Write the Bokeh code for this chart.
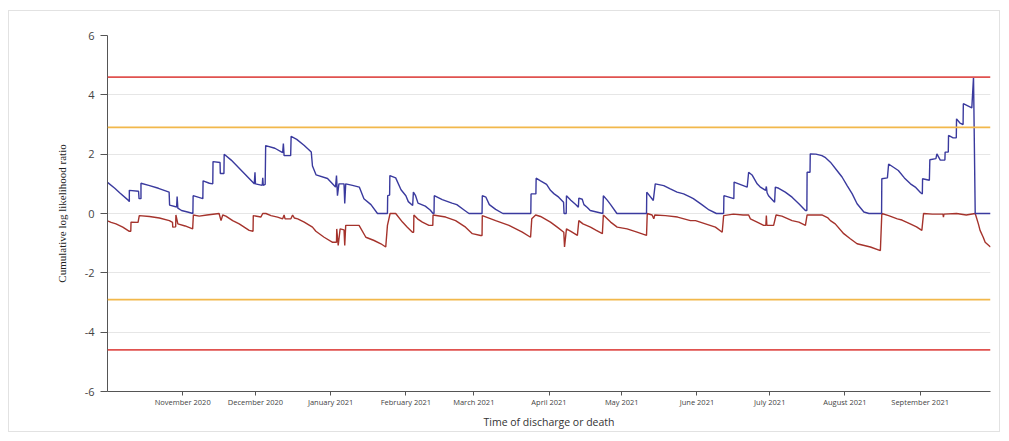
import numpy as np
from bokeh.plotting import figure
from bokeh.models import Range1d, FixedTicker, Span
from bokeh.embed import file_html
from bokeh.resources import INLINE

# ---------------- data ----------------
start_date = "2020-10-01"
end_date = "2021-09-30"

# upper CUSUM (days since start_date, value)
blue_day = [0, 3, 5, 8.5, 9, 9, 12.8, 13, 13.8, 13.8, 17, 21, 25.4, 25.6, 28.5, 28.7, 29.0, 30.5, 33,
            35.2, 35.3, 39.3, 39.4, 42, 43.4, 43.5, 46.4, 46.5, 48.0, 48.1, 51, 54, 57, 60.5, 60.8, 61.0,
            63.8, 64.0, 64.2, 65.0, 65.2, 69, 72.2, 72.5, 72.8, 75.5, 75.7, 78, 81, 84, 84.5, 86, 90.7, 94,
            94.4, 94.8, 95.4, 97.5, 97.8, 98.2, 101, 103.8, 105.7, 108.6, 111.3, 115.4, 115.5, 116.3, 116.4,
            118.8, 121, 123, 124, 125.8, 126.1, 127, 128, 131, 133, 134.2, 134.6, 134.7, 138, 142, 144, 147,
            149, 154.4, 154.5, 156, 157.4, 160, 163, 174.5, 174.6, 176.6, 176.7, 178.5, 181, 182.6, 184, 186,
            188, 188.2, 189.1, 189.2, 191, 193, 194.1, 194.3, 195.7, 196.4, 197.8, 199, 204.2, 204.4, 206,
            207.4, 210, 222.2, 222.3, 225, 225.8, 229.3, 232, 234.8, 237.5, 240.3, 241.5, 245, 248, 251, 254,
            254.1, 258.2, 258.3, 263.7, 264.3, 265.7, 267.8, 269, 271.3, 271.6, 271.9, 272.5, 275, 275.3,
            276.7, 279.4, 282.2, 285, 287.7, 288.3, 288.4, 289.6, 289.7, 292, 294.5, 296, 298, 300.7, 302.8,
            304.9, 307, 309, 311.8, 313.9, 319.1, 319.2, 321.5, 322, 326, 328.5, 331, 333, 335.2, 335.9, 336.0,
            338.8, 339.0, 341.5, 341.9, 343.3, 345.2, 345.3, 346.6, 346.7, 348.6, 349.9, 350.0, 351.4, 352.7,
            352.8, 356.3, 357.0, 357.7, 364]
blue_val = [1.05, 0.85, 0.7, 0.45, 0.40, 0.78, 0.75, 0.5, 0.5, 1.02, 0.95, 0.85, 0.72, 0.28, 0.22, 0.57,
            0.18, 0.1, 0.05, 0.0, 0.6, 0.5, 1.1, 1.02, 1.0, 1.75, 1.72, 1.35, 1.35, 2.0, 1.8, 1.55, 1.3, 1.0,
            1.39, 1.0, 0.95, 1.2, 0.95, 0.98, 2.29, 2.2, 2.05, 2.36, 1.95, 1.95, 2.6, 2.5, 2.3, 2.07, 1.6,
            1.3, 1.18, 0.89, 1.28, 0.6, 1.0, 1.0, 0.34, 1.0, 0.95, 0.89, 0.5, 0.3, 0.0, 0.0, 0.6, 0.62, 1.28,
            1.2, 0.8, 0.6, 0.4, 0.27, 0.72, 0.6, 0.35, 0.25, 0.12, 0.0, 0.0, 0.6, 0.47, 0.35, 0.3, 0.12, 0.0,
            0.0, 0.6, 0.55, 0.3, 0.14, 0.0, 0.0, 0.66, 0.66, 1.19, 1.1, 0.98, 0.78, 0.67, 0.55, 0.38, 0.0,
            0.0, 0.6, 0.45, 0.3, 0.21, 0.52, 0.48, 0.3, 0.2, 0.1, 0.0, 0.6, 0.45, 0.3, 0.0, 0.0, 0.72, 0.44,
            1.0, 0.94, 0.83, 0.72, 0.66, 0.55, 0.5, 0.3, 0.12, 0.0, 0.0, 0.6, 0.5, 1.06, 0.89, 1.39, 1.3, 1.0,
            0.9, 0.78, 0.91, 0.7, 0.6, 0.38, 0.89, 0.85, 0.72, 0.55, 0.33, 0.1, 0.1, 1.39, 1.39, 2.01, 2.0,
            1.95, 1.88, 1.73, 1.45, 1.23, 0.94, 0.66, 0.33, 0.05, 0.0, 0.0, 1.17, 1.2, 1.67, 1.45, 1.2, 1.0,
            0.89, 0.7, 0.66, 1.17, 1.12, 1.81, 1.85, 2.01, 1.8, 1.8, 2.07, 2.07, 2.63, 2.55, 2.55, 3.19, 3.05,
            3.0, 3.7, 3.56, 4.6, 0.0, 0.0]

# lower CUSUM (days since start_date, value)
red_day = [0, 1.5, 3.5, 6.3, 9.0, 9.6, 9.7, 12.6, 13.1, 17.3, 21.4, 25.5, 26.8, 26.9, 28.1, 28.2, 29, 32,
           35.1, 35.4, 37.8, 41, 46, 46.8, 47.5, 48.8, 51.6, 54.3, 58.4, 60, 60.1, 63.2, 64, 65.3, 67.4,
           70.1, 72.2, 72.8, 73.2, 75.6, 76.3, 77, 78.4, 81.1, 84.5, 85.9, 89.3, 92.8, 94.4, 94.5, 95.1, 95.9,
           97.5, 97.8, 98.2, 103.7, 106.5, 109.9, 112.7, 114.7, 115.4, 116.5, 118.8, 121.6, 123.6, 125.7,
           126.2, 126.3, 127.8, 129.8, 132.5, 134.1, 134.2, 139.4, 143.5, 147.6, 150.4, 153.8, 154.4, 154.5,
           160, 165.5, 171, 174.4, 174.9, 176.5, 178.5, 182.6, 185.4, 188.1, 188.4, 189.2, 191, 193.7, 194.3,
           196, 199.1, 201.5, 204, 204.4, 207.4, 210.1, 214.2, 218.3, 222.2, 222.5, 224.5, 225.2, 225.6, 230,
           235, 240.3, 242.4, 246.5, 250.6, 253.4, 254, 258, 262, 264.3, 265, 267.8, 270.5, 271.4, 271.6,
           271.8, 274.6, 275.6, 278, 282.2, 285, 287.7, 288.4, 294.5, 297, 298, 300, 303.5, 306.2, 309, 314.5,
           318.6, 319.2, 322, 325.6, 327.5, 330.9, 333.5, 335.7, 336.4, 340, 344.4, 344.6, 344.8, 350, 354,
           357.7, 359, 359.7, 361, 361.8, 364]
red_val = [-0.25, -0.3, -0.35, -0.46, -0.6, -0.6, -0.29, -0.3, -0.07, -0.1, -0.15, -0.24, -0.3, -0.46, -0.45,
           -0.05, -0.35, -0.42, -0.52, -0.05, -0.09, -0.05, 0.0, -0.24, -0.05, -0.09, -0.24, -0.35, -0.57,
           -0.6, -0.07, -0.12, 0.0, 0.0, -0.07, -0.12, -0.18, -0.05, -0.18, -0.18, -0.05, -0.15, -0.18, -0.29,
           -0.46, -0.6, -0.8, -0.97, -0.97, -0.52, -1.08, -0.52, -0.55, -1.08, -0.4, -0.4, -0.8, -0.91, -1.02,
           -1.13, -0.4, 0.0, 0.0, -0.29, -0.46, -0.63, -0.63, -0.05, -0.18, -0.29, -0.4, -0.4, -0.05, -0.12,
           -0.24, -0.46, -0.68, -0.74, -0.74, -0.07, -0.24, -0.4, -0.63, -0.8, -0.18, -0.05, -0.1, -0.29,
           -0.46, -0.63, -1.13, -0.52, -0.6, -0.74, -0.24, -0.35, -0.46, -0.57, -0.68, -0.05, -0.29, -0.46,
           -0.52, -0.63, -0.74, 0.0, -0.05, -0.18, -0.05, -0.07, -0.12, -0.24, -0.24, -0.35, -0.46, -0.63,
           -0.07, -0.02, -0.05, -0.05, -0.18, -0.29, -0.4, -0.4, -0.07, -0.4, -0.4, -0.05, -0.09, -0.24,
           -0.29, -0.4, -0.05, -0.05, -0.15, -0.24, -0.35, -0.68, -0.85, -1.02, -1.13, -1.25, 0.0, -0.07,
           -0.18, -0.22, -0.35, -0.45, -0.57, 0.0, -0.02, -0.02, -0.12, -0.02, 0.0, -0.05, 0.0, -0.35, -0.57,
           -0.8, -0.97, -1.13]

# control limits
limit_values = [4.6, 2.9, -2.9, -4.6]
limit_colors = ["#e0524f", "#f2b84b", "#f2b84b", "#e0524f"]

# axis ticks
month_ticks = ["2020-11-01", "2020-12-01", "2021-01-01", "2021-02-01", "2021-03-01", "2021-04-01",
               "2021-05-01", "2021-06-01", "2021-07-01", "2021-08-01", "2021-09-01"]
month_labels = ["November 2020", "December 2020", "January 2021", "February 2021", "March 2021",
                "April 2021", "May 2021", "June 2021", "July 2021", "August 2021", "September 2021"]
y_ticks = [-6, -4, -2, 0, 2, 4, 6]
y_labels = ["-6", "-4", "-2", "0", "2", "4", "6"]

# ---------------- helpers ----------------
def to_ms(date_str):
    return float(np.datetime64(date_str, "ms").astype("int64"))

def days_to_dates(days):
    base = np.datetime64(start_date, "ms")
    return base + (np.array(days) * 86400000).astype("int64").astype("timedelta64[ms]")

blue_x = days_to_dates(blue_day)
red_x = days_to_dates(red_day)

p = figure(frame_width=883, frame_height=356,
           x_axis_type="datetime",
           x_range=Range1d(to_ms(start_date), to_ms(end_date)),
           y_range=Range1d(-6, 6),
           output_backend="svg", toolbar_location=None,
           min_border_left=98, min_border_right=9, min_border_top=24, min_border_bottom=40,
           background_fill_color="white", border_fill_color="white")
p.outline_line_color = None
p.styles = {"border": "1px solid #e2e2e2", "margin-left": "8px", "margin-top": "10px"}

# grid
p.xgrid.visible = False
p.ygrid.ticker = FixedTicker(ticks=y_ticks)
p.ygrid.grid_line_color = "#e6e6e6"
p.ygrid.grid_line_width = 1

# control limit lines
for v, c in zip(limit_values, limit_colors):
    p.add_layout(Span(location=v, dimension="width", line_color=c, line_width=1.8))

# series
p.line(red_x, red_val, line_color="#a5332c", line_width=1.4)
p.line(blue_x, blue_val, line_color="#3a3a9e", line_width=1.4)

# y axis
yax = p.yaxis[0]
yax.ticker = FixedTicker(ticks=y_ticks)
yax.major_label_overrides = {t: l for t, l in zip(y_ticks, y_labels)}
yax.axis_label = "Cumulative log likelihood ratio"
yax.axis_label_text_font = "Liberation Serif"
yax.axis_label_text_font_style = "normal"
yax.axis_label_text_font_size = "11px"
yax.axis_label_text_color = "#222222"
yax.axis_label_standoff = 14
yax.major_label_text_font = "Open Sans"
yax.major_label_text_font_size = "11px"
yax.major_label_text_color = "#444444"
yax.major_tick_out = 7
yax.major_tick_in = 0
yax.minor_tick_line_color = None
yax.major_label_standoff = 6
yax.axis_line_color = "#555555"
yax.major_tick_line_color = "#555555"

# x axis
xax = p.xaxis[0]
tick_ms = [to_ms(d) for d in month_ticks]
xax.ticker = FixedTicker(ticks=tick_ms)
xax.major_label_overrides = {t: l for t, l in zip(tick_ms, month_labels)}
xax.axis_label = "Time of discharge or death"
xax.axis_label_text_font = "Open Sans"
xax.axis_label_text_font_style = "normal"
xax.axis_label_text_font_size = "10.5px"
xax.axis_label_text_color = "#333333"
xax.axis_label_standoff = 5
xax.major_label_text_font = "Open Sans"
xax.major_label_text_font_size = "7.5px"
xax.major_label_text_color = "#444444"
xax.major_tick_out = 4
xax.major_tick_in = 0
xax.minor_tick_line_color = None
xax.major_label_standoff = 1
xax.axis_line_color = "#555555"
xax.major_tick_line_color = "#555555"

open("out.html", "w").write(file_html(p, INLINE))
